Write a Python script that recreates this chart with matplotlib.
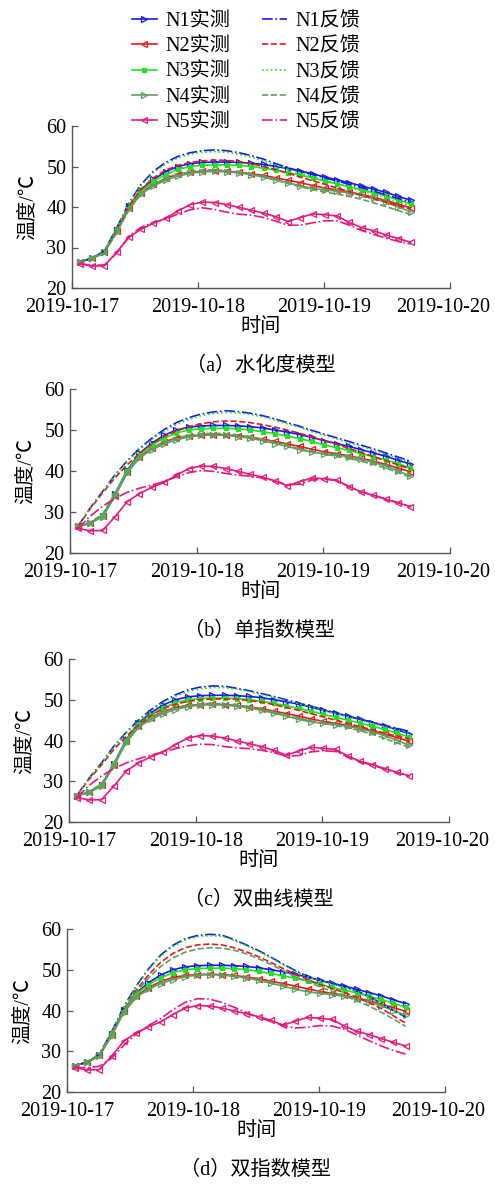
import matplotlib
matplotlib.use("Agg")
import matplotlib.pyplot as plt
import matplotlib.dates as mdates
import matplotlib.transforms as mtransforms
import pandas as pd

plt.rcParams['font.family'] = ['Liberation Serif', 'Noto Sans CJK SC']
plt.rcParams['axes.unicode_minus'] = False

# 时间点
times = pd.date_range('2019-10-17 01:30', periods=28, freq='140min')

# 实测值（四个子图相同）
n1_meas = [26.5, 27.3, 29.0, 34.3, 40.2, 44.3, 46.8, 48.7, 50.0, 50.7, 51.0, 51.1, 51.1, 51.0,
           50.8, 50.5, 50.0, 49.5, 48.9, 48.2, 47.4, 46.7, 46.0, 45.2, 44.4, 43.6, 42.6, 41.7]
n2_meas = [26.5, 27.3, 29.0, 34.0, 39.8, 43.5, 45.6, 47.1, 48.1, 48.6, 48.8, 48.9, 48.8, 48.6,
           48.2, 47.8, 47.2, 46.6, 46.0, 45.3, 44.7, 44.2, 43.7, 43.1, 42.4, 41.6, 40.7, 39.8]
n3_meas = [26.5, 27.3, 29.0, 34.2, 40.0, 44.0, 46.3, 48.0, 49.3, 50.0, 50.3, 50.4, 50.4, 50.3,
           50.0, 49.6, 49.1, 48.5, 47.9, 47.2, 46.4, 45.7, 45.0, 44.3, 43.5, 42.7, 41.8, 40.8]
n4_meas = [26.5, 27.3, 28.8, 33.8, 39.5, 43.2, 45.2, 46.6, 47.6, 48.3, 48.7, 48.8, 48.7, 48.4,
           48.0, 47.4, 46.7, 46.0, 45.2, 44.6, 44.2, 43.9, 43.5, 42.9, 42.1, 41.2, 40.0, 38.8]
n5_meas = [26.0, 25.4, 25.5, 28.8, 32.5, 34.5, 36.0, 37.2, 39.0, 40.6, 41.2, 41.1, 40.6, 39.9,
           39.2, 38.5, 37.6, 36.4, 37.4, 38.3, 38.1, 37.8, 36.2, 34.9, 34.1, 33.1, 32.2, 31.3]

# (a) 水化度模型 反馈
n1_fb_a = [26.5, 27.3, 29.2, 34.8, 41.0, 45.6, 48.8, 51.0, 52.5, 53.4, 53.9, 54.1, 53.9, 53.4,
           52.7, 51.8, 50.7, 49.7, 48.8, 48.0, 47.2, 46.4, 45.6, 44.8, 43.9, 43.0, 42.1, 41.2]
n2_fb_a = [26.5, 27.2, 28.9, 34.2, 40.2, 44.4, 47.2, 49.1, 50.3, 51.0, 51.4, 51.6, 51.5, 51.2,
           50.7, 50.0, 49.2, 48.3, 47.4, 46.5, 45.6, 44.7, 43.8, 42.9, 42.0, 41.2, 40.3, 39.5]
n3_fb_a = [26.5, 27.3, 29.1, 34.6, 40.8, 45.3, 48.5, 50.6, 52.1, 53.0, 53.5, 53.7, 53.5, 53.0,
           52.3, 51.4, 50.3, 49.3, 48.4, 47.5, 46.6, 45.8, 44.9, 44.0, 43.1, 42.2, 41.2, 40.3]
n4_fb_a = [26.5, 27.2, 28.7, 33.6, 39.3, 43.3, 45.5, 47.0, 48.0, 48.7, 49.1, 49.2, 49.0, 48.6,
           48.1, 47.4, 46.6, 45.8, 45.0, 44.3, 43.7, 43.2, 42.6, 41.9, 41.0, 40.1, 39.1, 38.2]
n5_fb_a = [26.0, 25.6, 25.7, 28.6, 32.8, 35.0, 36.2, 37.0, 38.3, 39.3, 39.8, 39.4, 38.7, 38.2,
           38.0, 37.4, 36.5, 35.5, 35.5, 36.1, 36.6, 36.6, 35.5, 34.2, 33.2, 32.3, 31.5, 30.9]

# (b) 单指数模型 反馈
n1_fb_b = [26.5, 31.0, 35.0, 39.0, 42.5, 45.5, 48.0, 50.1, 51.8, 53.0, 53.9, 54.4, 54.7, 54.5,
           54.1, 53.5, 52.7, 51.8, 50.9, 49.9, 49.0, 48.1, 47.2, 46.3, 45.4, 44.4, 43.4, 42.4]
n2_fb_b = [26.5, 30.8, 34.6, 38.3, 41.5, 44.3, 46.6, 48.4, 49.8, 50.8, 51.5, 52.0, 52.2, 52.1,
           51.8, 51.3, 50.7, 50.0, 49.2, 48.3, 47.4, 46.5, 45.5, 44.5, 43.5, 42.5, 41.5, 40.5]
n3_fb_b = [26.5, 30.9, 34.8, 38.8, 42.3, 45.2, 47.7, 49.7, 51.4, 52.6, 53.5, 54.0, 54.3, 54.2,
           53.8, 53.2, 52.4, 51.5, 50.6, 49.6, 48.7, 47.8, 46.9, 46.0, 45.1, 44.1, 43.0, 42.0]
n4_fb_b = [26.5, 27.5, 29.5, 34.5, 40.0, 43.6, 45.6, 47.0, 48.0, 48.7, 49.1, 49.2, 49.1, 48.8,
           48.3, 47.7, 47.0, 46.2, 45.4, 44.7, 44.1, 43.6, 43.1, 42.4, 41.6, 40.7, 39.6, 38.5]
n5_fb_b = [26.0, 29.0, 31.4, 33.3, 34.8, 35.8, 36.6, 37.4, 38.6, 39.6, 40.1, 39.9, 39.4, 39.0,
           38.7, 38.3, 37.6, 36.6, 36.8, 37.8, 38.0, 37.7, 36.2, 34.9, 34.1, 33.2, 32.3, 31.4]

# (c) 双曲线模型 反馈
n1_fb_c = [26.5, 30.8, 34.5, 38.6, 42.0, 45.0, 47.5, 49.6, 51.2, 52.4, 53.1, 53.4, 53.3, 52.8,
           52.2, 51.5, 50.8, 50.0, 49.2, 48.4, 47.6, 46.8, 46.0, 45.2, 44.5, 43.7, 43.0, 42.2]
n2_fb_c = [26.5, 30.5, 34.0, 37.8, 41.0, 43.8, 46.1, 47.8, 48.9, 49.6, 50.0, 50.2, 50.2, 50.1,
           49.8, 49.4, 48.8, 48.1, 47.4, 46.6, 45.8, 45.0, 44.2, 43.4, 42.6, 41.8, 41.1, 40.4]
n3_fb_c = [26.5, 30.7, 34.4, 38.4, 41.8, 44.7, 47.2, 49.3, 50.9, 52.0, 52.7, 53.0, 53.0, 52.6,
           52.0, 51.3, 50.6, 49.8, 49.0, 48.2, 47.4, 46.6, 45.8, 45.0, 44.2, 43.4, 42.6, 41.8]
n4_fb_c = [26.5, 27.5, 29.4, 34.3, 39.8, 43.5, 45.5, 46.9, 47.9, 48.6, 49.0, 49.1, 49.0, 48.7,
           48.2, 47.6, 46.9, 46.2, 45.5, 44.8, 44.2, 43.7, 43.1, 42.4, 41.5, 40.5, 39.4, 38.3]
n5_fb_c = [26.0, 29.0, 31.3, 33.1, 34.5, 35.5, 36.4, 37.2, 38.0, 38.7, 39.1, 39.0, 38.5, 38.2,
           38.0, 37.6, 37.0, 36.2, 36.3, 37.2, 37.5, 37.3, 36.0, 34.8, 33.9, 33.0, 32.1, 31.3]

# (d) 双指数模型 反馈
n1_fb_d = [26.5, 27.3, 29.3, 34.8, 41.0, 46.0, 50.2, 53.6, 56.0, 57.6, 58.4, 58.7, 58.5, 57.4,
           56.1, 54.7, 53.1, 51.4, 49.8, 48.4, 47.4, 46.6, 45.8, 44.8, 43.5, 41.8, 40.0, 38.4]
n2_fb_d = [26.5, 27.3, 29.2, 34.5, 40.3, 45.0, 48.7, 51.8, 54.0, 55.4, 56.1, 56.3, 56.1, 55.4,
           54.4, 53.2, 51.8, 50.3, 48.9, 47.6, 46.4, 45.4, 44.4, 43.3, 42.0, 40.5, 38.7, 36.9]
n3_fb_d = [26.5, 27.3, 29.3, 34.7, 40.8, 45.8, 50.0, 53.3, 55.7, 57.3, 58.1, 58.4, 58.2, 57.2,
           55.9, 54.5, 52.9, 51.2, 49.6, 48.3, 47.3, 46.5, 45.7, 44.7, 43.4, 41.8, 40.1, 38.6]
n4_fb_d = [26.5, 27.3, 29.2, 34.3, 40.0, 44.5, 48.0, 50.8, 52.9, 54.3, 55.1, 55.4, 55.3, 54.8,
           53.9, 52.7, 51.3, 49.8, 48.3, 47.0, 45.8, 44.7, 43.6, 42.4, 41.1, 39.6, 37.9, 36.1]
n5_fb_d = [26.0, 26.0, 26.3, 28.3, 31.5, 34.2, 36.3, 38.0, 40.2, 42.0, 42.9, 42.8, 42.0, 40.8,
           39.5, 38.3, 37.3, 36.3, 35.7, 35.9, 36.3, 36.2, 35.4, 34.0, 32.6, 31.3, 30.2, 29.3]

measured = [n1_meas, n2_meas, n3_meas, n4_meas, n5_meas]
feedback = {
    'a': [n1_fb_a, n2_fb_a, n3_fb_a, n4_fb_a, n5_fb_a],
    'b': [n1_fb_b, n2_fb_b, n3_fb_b, n4_fb_b, n5_fb_b],
    'c': [n1_fb_c, n2_fb_c, n3_fb_c, n4_fb_c, n5_fb_c],
    'd': [n1_fb_d, n2_fb_d, n3_fb_d, n4_fb_d, n5_fb_d],
}
captions = {'a': '（a）水化度模型', 'b': '（b）单指数模型',
            'c': '（c）双曲线模型', 'd': '（d）双指数模型'}

names = ['N1', 'N2', 'N3', 'N4', 'N5']
colors = ['#1a1ae6', '#e61a1a', '#22e022', '#5f9f5f', '#e6197f']
markers = ['>', '<', 's', '>', '<']
fb_styles = ['-.', '--', ':', '--', '-.']

W, H = 495, 1184
fig = plt.figure(figsize=(W / 100, H / 100), dpi=100)

# 轴位置（像素：左，右，上，下）
boxes = {'a': (72, 450, 126, 288), 'b': (70, 450, 389, 553),
         'c': (69, 449, 659, 822), 'd': (67, 445, 929, 1092)}

handles = []
for key in ['a', 'b', 'c', 'd']:
    l, r, t, b = boxes[key]
    ax = fig.add_axes([l / W, 1 - b / H, (r - l) / W, (b - t) / H])
    for i in range(5):
        line_m, = ax.plot(times, measured[i], color=colors[i], lw=1.2,
                          marker=markers[i], ms=4.5 if markers[i] != 's' else 3,
                          mfc='none' if markers[i] != 's' else colors[i],
                          mew=0.9, label=names[i] + '实测')
        if key == 'a':
            handles.append(line_m)
    for i in range(5):
        line_f, = ax.plot(times, feedback[key][i], color=colors[i], lw=1.2,
                          linestyle=fb_styles[i], label=names[i] + '反馈')
        if key == 'a':
            handles.append(line_f)

    ax.set_xlim(pd.Timestamp('2019-10-17'), pd.Timestamp('2019-10-20'))
    ax.set_ylim(20, 60)
    ax.set_yticks([20, 30, 40, 50, 60])
    ax.xaxis.set_major_locator(mdates.DayLocator())
    ax.xaxis.set_major_formatter(mdates.DateFormatter('%Y-%m-%d'))
    ax.spines['top'].set_visible(False)
    ax.spines['right'].set_visible(False)
    for s in ['left', 'bottom']:
        ax.spines[s].set_color('#555555')
        ax.spines[s].set_linewidth(1.0)
    ax.tick_params(direction='in', length=4, width=0.9, color='#555555',
                   labelsize=14.5)
    ax.tick_params(axis='y', pad=4)
    ax.tick_params(axis='x', pad=7)
    ax.set_ylabel('温度/℃', fontsize=14.5, labelpad=6)
    ax.set_xlabel('时间', fontsize=14.5, labelpad=1)
    # 最后一个日期标签稍微左移，避免被裁剪
    last = ax.get_xticklabels()[-1]
    last.set_transform(last.get_transform() +
                       mtransforms.ScaledTranslation(-7 / 100, 0, fig.dpi_scale_trans))
    fig.text((l + r) / 2 / W, 1 - (b + 78) / H, captions[key], fontsize=14.5,
             ha='center', va='center')

fig.legend(handles, [h.get_label() for h in handles], ncol=2, loc='upper center',
           bbox_to_anchor=(0.497, 1.0), frameon=False, fontsize=14.5,
           handlelength=1.25, handletextpad=0.4, columnspacing=1.6,
           labelspacing=0.31, borderpad=0.1)

fig.savefig('out.png', dpi=100)
